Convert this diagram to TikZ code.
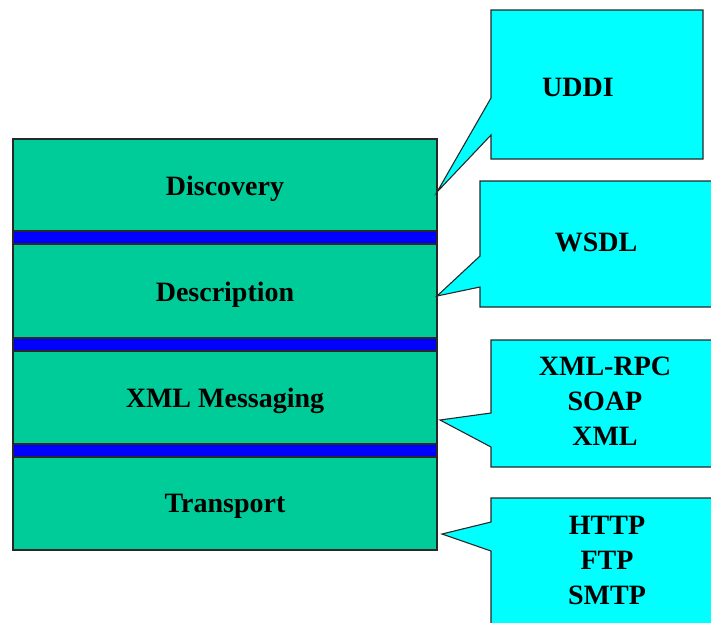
\documentclass[tikz,border=0pt]{standalone}
\usepackage{fontspec}
\setmainfont{Liberation Serif}
\definecolor{layergreen}{RGB}{0,204,153}
\definecolor{barblue}{RGB}{0,0,255}
\definecolor{calloutcyan}{RGB}{0,255,255}
\definecolor{edge}{RGB}{40,40,40}
\tikzset{
  layer/.style={draw=edge, line width=1.1pt, fill=layergreen},
  bar/.style={draw=edge, line width=1.1pt, fill=barblue},
  callout/.style={draw=edge, line width=1.1pt, fill=calloutcyan, line join=miter},
  label/.style={font=\fontsize{28}{35}\selectfont\bfseries, align=center, inner sep=0pt, anchor=center}
}
\begin{document}
\begin{tikzpicture}[x=1pt,y=-1pt]
\useasboundingbox (0,0) rectangle (711,622);
\clip (0,0) rectangle (711,622);
\fill[white] (0,0) rectangle (711,622);

% protocol stack
\draw[layer] (13,139) rectangle (437,231);
\draw[bar]   (13,231) rectangle (437,244);
\draw[layer] (13,244) rectangle (437,338);
\draw[bar]   (13,338) rectangle (437,351);
\draw[layer] (13,351) rectangle (437,444);
\draw[bar]   (13,444) rectangle (437,457);
\draw[layer] (13,457) rectangle (437,550);

\node[label] (discovery)   at (225,189) {Discovery};
\node[label] (description) at (225,295) {Description};
\node[label] (messaging)   at (225,401) {XML Messaging};
\node[label] (transport)   at (225,506) {Transport};

% callouts pointing at the layers
\draw[callout] (491,10) -- (703,10) -- (703,159) -- (491,159) -- (491,135)
  -- (437,192) -- (491,98) -- cycle;
\draw[callout] (480,181) -- (720,181) -- (720,307) -- (480,307) -- (480,287)
  -- (437,296) -- (480,256) -- cycle;
\draw[callout] (491,340) -- (720,340) -- (720,467) -- (491,467) -- (491,447)
  -- (440,420) -- (491,413) -- cycle;
\draw[callout] (491,498) -- (720,498) -- (720,640) -- (491,640) -- (491,551)
  -- (442,534) -- (491,522) -- cycle;

\node[label] (uddi) at (578,87)  {UDDI};
\node[label] (wsdl) at (596,242) {WSDL};
\node[label] (xmlstack)  at (605,401) {XML-RPC\\SOAP\\XML};
\node[label] (transstack) at (607,560) {HTTP\\FTP\\SMTP};
\end{tikzpicture}
\end{document}
